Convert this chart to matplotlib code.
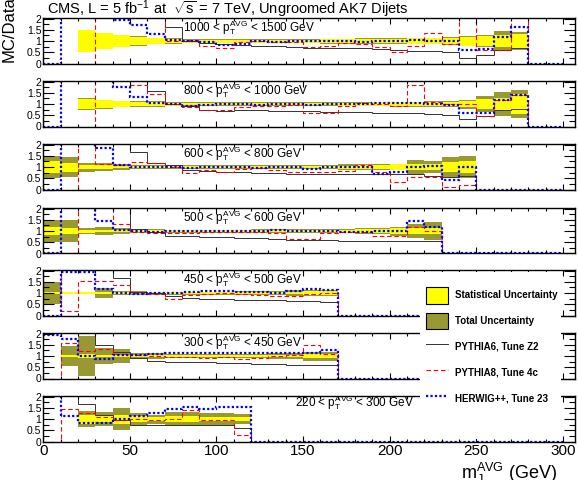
import numpy as np
import matplotlib
matplotlib.use('Agg')
import matplotlib.pyplot as plt
from matplotlib.patches import Patch, Rectangle
from matplotlib.lines import Line2D
from matplotlib.ticker import MultipleLocator, FuncFormatter

N = np.nan

# m_J^AVG bins, 10 GeV wide
edges = np.arange(0, 310, 10)

# pT bin labels, top to bottom
pt_labels = ['1000 < $\\mathrm{p}_{\\mathrm{T}}^{\\mathrm{AVG}}$ < 1500 GeV',
             '800 < $\\mathrm{p}_{\\mathrm{T}}^{\\mathrm{AVG}}$ < 1000 GeV',
             '600 < $\\mathrm{p}_{\\mathrm{T}}^{\\mathrm{AVG}}$ < 800 GeV',
             '500 < $\\mathrm{p}_{\\mathrm{T}}^{\\mathrm{AVG}}$ < 600 GeV',
             '450 < $\\mathrm{p}_{\\mathrm{T}}^{\\mathrm{AVG}}$ < 500 GeV',
             '300 < $\\mathrm{p}_{\\mathrm{T}}^{\\mathrm{AVG}}$ < 450 GeV',
             '220 < $\\mathrm{p}_{\\mathrm{T}}^{\\mathrm{AVG}}$ < 300 GeV']

# MC/Data ratios (values > 2 are off scale)
p6_1000 = [3, 3, 3, 3, 3, 3, 3, 1.63, 1.0, 0.92, 0.85, 0.82, 0.8, 0.78, 0.72, 0.7, 0.7, 0.68, 0.67, 0.66, 0.62, 0.57, 0.55, 0.5, 0.26, 0.38, 0.62, 0.68, 0, 0]
p8_1000 = [0, 0, 0, 3, 3, 3, 3, 1.02, 1.05, 0.78, 0.7, 0.95, 1.0, 0.98, 0.95, 0.75, 0.8, 0.9, 0.85, 0.75, 0.5, 0.8, 1.38, 0.85, 3, 0.6, 0.6, 3, 0, 0]
hw_1000 = [0, 3, 3, 3, 1.92, 1.7, 1.33, 1.05, 1.0, 0.95, 0.82, 0.85, 1.0, 0.97, 1.0, 1.0, 1.0, 1.0, 0.98, 1.0, 1.0, 1.05, 1.0, 1.0, 0.62, 0.63, 1.2, 1.65, 0, 0]
stat_1000 = [N, N, 0.48, 0.35, 0.25, 0.18, 0.12, 0.09, 0.07, 0.07, 0.07, 0.07, 0.07, 0.07, 0.07, 0.07, 0.08, 0.08, 0.08, 0.09, 0.09, 0.12, 0.12, 0.15, 0.2, 0.22, 0.28, 0.3, N, N]
tot_1000 = [N, N, 0.48, 0.37, 0.28, 0.21, 0.15, 0.12, 0.1, 0.1, 0.1, 0.1, 0.1, 0.1, 0.1, 0.1, 0.11, 0.11, 0.12, 0.12, 0.12, 0.15, 0.15, 0.18, 0.22, 0.25, 0.45, 0.4, N, N]

p6_800 = [3, 3, 3, 3, 3, 3, 1.57, 1.0, 0.9, 0.72, 0.7, 0.72, 0.72, 0.7, 0.7, 0.68, 0.66, 0.65, 0.63, 0.62, 0.62, 0.6, 0.55, 0.52, 0.33, 0.45, 0.74, 0.77, 0, 0]
p8_800 = [0, 0, 0, 3, 3, 1.83, 1.46, 1.02, 0.88, 0.72, 0.75, 0.85, 0.9, 0.9, 0.95, 0.6, 0.6, 0.9, 1.06, 1.0, 0.9, 1.85, 1.1, 1.0, 1.0, 0.45, 1.2, 1.4, 0, 0]
hw_800 = [0, 3, 3, 3, 1.78, 1.32, 1.06, 1.0, 0.93, 0.98, 1.0, 1.0, 0.98, 1.02, 1.02, 0.95, 1.02, 1.02, 1.02, 1.05, 1.05, 1.05, 1.02, 0.98, 0.6, 0.6, 1.2, 1.4, 0, 0]
stat_800 = [N, N, 0.23, 0.17, 0.12, 0.1, 0.09, 0.07, 0.06, 0.06, 0.05, 0.05, 0.05, 0.05, 0.05, 0.06, 0.06, 0.07, 0.07, 0.08, 0.08, 0.08, 0.09, 0.1, 0.12, 0.22, 0.28, 0.45, N, N]
tot_800 = [N, N, 0.25, 0.2, 0.15, 0.13, 0.12, 0.1, 0.09, 0.08, 0.08, 0.08, 0.08, 0.08, 0.08, 0.09, 0.09, 0.1, 0.1, 0.1, 0.11, 0.11, 0.12, 0.13, 0.2, 0.35, 0.55, 0.63, N, N]

p6_600 = [3, 3, 3, 3, 3, 1.67, 1.17, 1.09, 0.86, 0.82, 0.8, 0.78, 0.75, 0.72, 0.7, 0.7, 0.7, 0.7, 0.7, 0.68, 0.71, 0.7, 0.6, 0.55, 0.6, 0, 0, 0, 0, 0]
p8_600 = [0, 0, 3, 1.15, 1.1, 1.24, 1.2, 1.0, 0.72, 0.85, 0.8, 0.9, 0.95, 0.85, 0.8, 0.8, 0.8, 0.82, 1.09, 0.79, 0.33, 0.56, 0.56, 0.1, 0.18, 0, 0, 0, 0, 0]
hw_600 = [0, 3, 3, 1.85, 1.09, 1.0, 1.0, 1.0, 0.98, 1.0, 1.02, 1.0, 0.98, 1.0, 1.0, 0.92, 1.0, 1.0, 1.0, 0.71, 0.79, 1.0, 1.05, 0.41, 1.0, 0, 0, 0, 0, 0]
stat_600 = [0.25, 0.2, 0.1, 0.08, 0.06, 0.06, 0.05, 0.05, 0.05, 0.05, 0.05, 0.05, 0.05, 0.05, 0.05, 0.05, 0.06, 0.07, 0.1, 0.1, 0.12, 0.15, 0.15, 0.22, 0.28, N, N, N, N, N]
tot_600 = [0.5, 0.45, 0.2, 0.18, 0.15, 0.1, 0.08, 0.08, 0.08, 0.08, 0.08, 0.08, 0.08, 0.08, 0.09, 0.09, 0.1, 0.12, 0.13, 0.13, 0.15, 0.3, 0.25, 0.45, 0.5, N, N, N, N, N]

p6_500 = [3, 3, 3, 3, 3, 1.1, 0.95, 0.8, 0.78, 0.75, 0.72, 0.7, 0.68, 0.65, 0.62, 0.6, 0.58, 0.55, 0.55, 0.55, 0.55, 0.55, 0.55, 0, 0, 0, 0, 0, 0, 0]
p8_500 = [0, 0, 3, 3, 1.3, 0.95, 0.9, 0.9, 0.92, 0.95, 0.95, 0.95, 0.95, 0.92, 0.65, 0.65, 0.9, 0.95, 0.95, 0.8, 0.8, 1.2, 1.0, 0, 0, 0, 0, 0, 0, 0]
hw_500 = [0, 3, 3, 1.47, 1.07, 1.0, 0.98, 1.0, 1.0, 1.02, 1.0, 1.0, 1.02, 1.05, 1.0, 1.0, 1.0, 0.95, 0.98, 1.0, 1.0, 1.47, 1.2, 0, 0, 0, 0, 0, 0, 0]
stat_500 = [0.18, 0.15, 0.07, 0.06, 0.05, 0.04, 0.04, 0.04, 0.04, 0.04, 0.04, 0.04, 0.05, 0.05, 0.05, 0.05, 0.06, 0.07, 0.08, 0.1, 0.12, 0.15, 0.15, N, N, N, N, N, N, N]
tot_500 = [0.48, 0.48, 0.15, 0.16, 0.12, 0.08, 0.08, 0.07, 0.07, 0.07, 0.07, 0.07, 0.08, 0.08, 0.08, 0.08, 0.1, 0.1, 0.12, 0.15, 0.2, 0.3, 0.4, N, N, N, N, N, N, N]

p6_450 = [3, 3, 3, 3, 1.66, 1.05, 1.02, 0.85, 0.8, 0.75, 0.72, 0.7, 0.68, 0.67, 0.66, 0.65, 0.6, 0, 0, 0, 0, 0, 0, 0, 0, 0, 0, 0, 0, 0]
p8_450 = [3, 0.18, 1.56, 1.56, 1.35, 1.0, 0.97, 0.72, 0.9, 0.95, 1.0, 0.95, 0.9, 0.88, 0.85, 0.95, 1.0, 0, 0, 0, 0, 0, 0, 0, 0, 0, 0, 0, 0, 0]
hw_450 = [0, 1.93, 1.93, 1.2, 1.0, 0.98, 1.0, 1.0, 1.05, 1.08, 1.1, 1.05, 1.05, 1.02, 1.08, 1.2, 1.15, 0, 0, 0, 0, 0, 0, 0, 0, 0, 0, 0, 0, 0]
stat_450 = [0.05, 0.03, 0.03, 0.05, 0.04, 0.03, 0.03, 0.03, 0.03, 0.03, 0.03, 0.04, 0.04, 0.05, 0.06, 0.08, 0.1, N, N, N, N, N, N, N, N, N, N, N, N, N]
tot_450 = [0.48, 0.05, 0.05, 0.22, 0.1, 0.08, 0.07, 0.07, 0.07, 0.07, 0.07, 0.08, 0.08, 0.1, 0.15, 0.15, 0.15, N, N, N, N, N, N, N, N, N, N, N, N, N]

p6_300 = [3, 3, 3, 1.51, 1.19, 0.93, 0.78, 0.75, 0.73, 0.72, 0.7, 0.68, 0.66, 0.65, 0.62, 0.6, 0.6, 0, 0, 0, 0, 0, 0, 0, 0, 0, 0, 0, 0, 0]
p8_300 = [0, 1.59, 1.22, 1.3, 1.1, 1.05, 1.0, 0.98, 0.95, 0.9, 0.95, 0.85, 0.9, 1.0, 1.05, 1.5, 1.1, 0, 0, 0, 0, 0, 0, 0, 0, 0, 0, 0, 0, 0]
hw_300 = [1.96, 1.76, 1.0, 0.85, 1.03, 1.05, 1.1, 1.12, 1.12, 1.15, 1.15, 1.15, 1.15, 1.12, 1.12, 1.15, 1.25, 0, 0, 0, 0, 0, 0, 0, 0, 0, 0, 0, 0, 0]
stat_300 = [N, 0.05, 0.1, 0.06, 0.06, 0.04, 0.04, 0.04, 0.04, 0.04, 0.04, 0.04, 0.05, 0.05, 0.06, 0.08, 0.1, N, N, N, N, N, N, N, N, N, N, N, N, N]
tot_300 = [N, 0.44, 0.89, 0.37, 0.33, 0.15, 0.12, 0.1, 0.1, 0.1, 0.1, 0.1, 0.1, 0.12, 0.15, 0.2, 0.2, N, N, N, N, N, N, N, N, N, N, N, N, N]

p6_220 = [3, 3, 1.67, 1.17, 0.95, 0.75, 0.73, 0.73, 0.72, 0.72, 0.75, 0.6, 0, 0, 0, 0, 0, 0, 0, 0, 0, 0, 0, 0, 0, 0, 0, 0, 0, 0]
p8_220 = [0, 1.44, 1.29, 1.1, 0.95, 1.0, 0.98, 1.0, 1.4, 0.95, 0.95, 0.27, 0, 0, 0, 0, 0, 0, 0, 0, 0, 0, 0, 0, 0, 0, 0, 0, 0, 0]
hw_220 = [3, 1.14, 0.84, 0.84, 1.02, 1.14, 1.25, 1.44, 1.55, 1.47, 1.52, 1.55, 0, 0, 0, 0, 0, 0, 0, 0, 0, 0, 0, 0, 0, 0, 0, 0, 0, 0]
stat_220 = [N, N, 0.2, 0.15, 0.2, 0.12, 0.1, 0.12, 0.12, 0.1, 0.1, 0.1, N, N, N, N, N, N, N, N, N, N, N, N, N, N, N, N, N, N]
tot_220 = [N, N, 0.34, 0.3, 0.5, 0.26, 0.2, 0.3, 0.3, 0.26, 0.26, 0.22, N, N, N, N, N, N, N, N, N, N, N, N, N, N, N, N, N, N]

panels = [(p6_1000, p8_1000, hw_1000, stat_1000, tot_1000),
          (p6_800, p8_800, hw_800, stat_800, tot_800),
          (p6_600, p8_600, hw_600, stat_600, tot_600),
          (p6_500, p8_500, hw_500, stat_500, tot_500),
          (p6_450, p8_450, hw_450, stat_450, tot_450),
          (p6_300, p8_300, hw_300, stat_300, tot_300),
          (p6_220, p8_220, hw_220, stat_220, tot_220)]

YELLOW = '#ffff00'
OLIVE = '#999933'
GREY = '#333333'

plt.rcParams['font.family'] = 'Liberation Sans'
plt.rcParams['mathtext.fontset'] = 'custom'
plt.rcParams['mathtext.rm'] = 'Liberation Sans'
plt.rcParams['mathtext.it'] = 'Liberation Sans:italic'

W, H = 578, 480
fig = plt.figure(figsize=(W / 100, H / 100), dpi=100)

# panel tops in pixels
tops = [18, 81, 144, 208, 270, 333, 396]
ph = 45.5
x0, x1 = 43.3, 575

centers = edges[:-1] + 5
fmt = FuncFormatter(lambda v, p: '%g' % v)

for i, (p6, p8, hw, stat, tot) in enumerate(panels):
    ax = fig.add_axes([x0 / W, 1 - (tops[i] + ph) / H, (x1 - x0) / W, ph / H])
    stat = np.array(stat, float)
    tot = np.array(tot, float)
    m = ~np.isnan(tot)
    ax.bar(centers[m], 2 * tot[m], bottom=1 - tot[m], width=10, color=OLIVE, lw=0)
    ax.bar(centers[m], 2 * stat[m], bottom=1 - stat[m], width=10, color=YELLOW, lw=0)
    ax.stairs(p6, edges, baseline=None, color=GREY, lw=0.7)
    ax.stairs(p8, edges, baseline=None, color='#ff0000', lw=0.8, ls=(0, (4, 2.5)))
    ax.stairs(hw, edges, baseline=None, color='#0000ff', lw=1.6, ls=(0, (1, 1)))

    ax.set_xlim(0, 307)
    ax.set_ylim(0, 2.03)
    ax.yaxis.set_major_locator(MultipleLocator(0.5))
    ax.yaxis.set_minor_locator(MultipleLocator(0.25))
    ax.xaxis.set_major_locator(MultipleLocator(50))
    ax.xaxis.set_minor_locator(MultipleLocator(10))
    ax.yaxis.set_major_formatter(fmt)
    ax.tick_params(which='both', direction='in', top=True, right=True, width=0.8)
    ax.tick_params(axis='y', which='major', length=8, labelsize=7.5, pad=1.5)
    ax.tick_params(axis='y', which='minor', length=4)
    ax.tick_params(axis='x', which='major', length=4, labelsize=11, pad=2)
    ax.tick_params(axis='x', which='minor', length=2)
    for s in ax.spines.values():
        s.set_linewidth(1.0)
    if i < 6:
        ax.tick_params(axis='x', labelbottom=False)
        ax.text(0.263, 0.70, pt_labels[i], transform=ax.transAxes, fontsize=8.5, va='baseline')
    else:
        ax.text(0.473, 0.76, pt_labels[i], transform=ax.transAxes, fontsize=8.5, va='baseline')

fig.text(47 / W, 1 - 14 / H, 'CMS, L = 5 fb$^{\\mathrm{-1}}$ at  $\\sqrt{\\mathrm{s}}$ = 7 TeV, Ungroomed AK7 Dijets',
         fontsize=10.5, va='baseline')
fig.text(0.002, 1.008, 'MC/Data', rotation=90, fontsize=12, ha='left', va='top')
fig.text(557 / W, 1 - 479 / H, 'm$_{\\mathrm{J}}^{\\mathrm{AVG}}$ (GeV)', fontsize=13, ha='right', va='baseline')

# white legend area
fig.add_artist(Rectangle((420 / W, 1 - 439 / H), 141 / W, 167 / H, transform=fig.transFigure,
                         facecolor='white', edgecolor='none', zorder=3))
handles = [Patch(facecolor=YELLOW, edgecolor='black', lw=0.8),
           Patch(facecolor=OLIVE, edgecolor='black', lw=0.8),
           Line2D([], [], color=GREY, lw=0.7),
           Line2D([], [], color='#ff0000', lw=0.8, ls=(0, (4, 2.5))),
           Line2D([], [], color='#0000ff', lw=1.6, ls=(0, (1, 1)))]
labels = ['Statistical Uncertainty', 'Total Uncertainty', 'PYTHIA6, Tune Z2',
          'PYTHIA8, Tune 4c', 'HERWIG++, Tune 23']
leg = fig.legend(handles, labels, loc='upper left', bbox_to_anchor=(426 / W, 1 - 287 / H),
                 frameon=False, borderpad=0, borderaxespad=0, handlelength=2.25, handleheight=2.25,
                 handletextpad=0.7, labelspacing=0.94, prop={'size': 7, 'weight': 'bold'})
leg.set_zorder(4)

fig.savefig('out.png', dpi=100)
